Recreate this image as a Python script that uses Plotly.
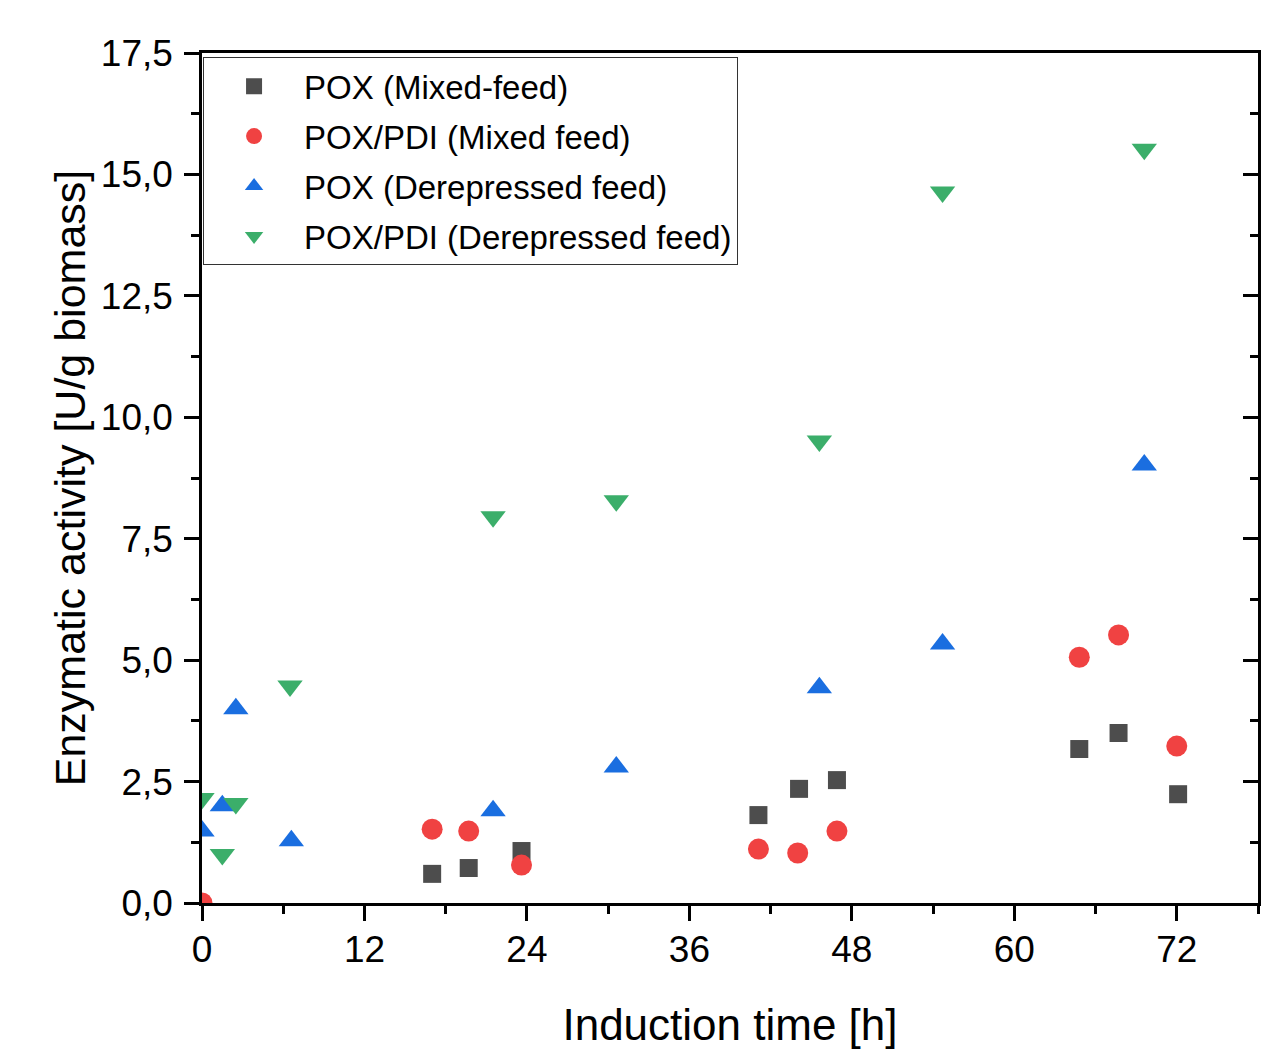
import plotly.graph_objects as go

# ---- data ----
pox_mixed_t = [17.0, 19.7, 23.6, 41.1, 44.1, 46.9, 64.8, 67.7, 72.1]
pox_mixed_v = [0.60, 0.72, 1.07, 1.81, 2.35, 2.53, 3.17, 3.50, 2.24]

poxpdi_mixed_t = [0.0, 17.0, 19.7, 23.6, 41.1, 44.0, 46.9, 64.8, 67.7, 72.0]
poxpdi_mixed_v = [0.0, 1.52, 1.48, 0.78, 1.11, 1.03, 1.48, 5.06, 5.52, 3.23]

pox_derep_t = [0.0, 1.5, 2.5, 6.6, 21.5, 30.6, 45.6, 54.7, 69.6]
pox_derep_v = [1.48, 2.00, 4.00, 1.28, 1.90, 2.80, 4.43, 5.33, 9.02]

poxpdi_derep_t = [0.0, 1.5, 2.5, 6.5, 21.5, 30.6, 45.6, 54.7, 69.6]
poxpdi_derep_v = [2.15, 1.00, 2.05, 4.47, 7.95, 8.28, 9.51, 14.64, 15.52]

names = ["POX (Mixed-feed)", "POX/PDI (Mixed feed)",
         "POX (Derepressed feed)", "POX/PDI (Derepressed feed)"]
x_ticks = [0, 12, 24, 36, 48, 60, 72]
y_ticks = [0, 2.5, 5.0, 7.5, 10.0, 12.5, 15.0, 17.5]

FONT = "Liberation Sans, Arial"

series = [
    (pox_mixed_t, pox_mixed_v, names[0], "square", "#4d4d4d", 18),
    (poxpdi_mixed_t, poxpdi_mixed_v, names[1], "circle", "#f04242", 21),
    (pox_derep_t, pox_derep_v, names[2], "triangle-up", "#1a6ee0", 22),
    (poxpdi_derep_t, poxpdi_derep_v, names[3], "triangle-down", "#3bae6a", 22),
]

fig = go.Figure()
for i, (t, v, n, sym, col, sz) in enumerate(series):
    fig.add_trace(go.Scatter(
        x=t, y=v, name=n, mode="markers", legendgroup=f"g{i}",
        marker=dict(symbol=sym, color=col, size=sz, line=dict(width=0)),
        cliponaxis=True,
    ))

# dummy trace to carry the right-hand mirrored axis
fig.add_trace(go.Scatter(x=[None], y=[None], yaxis="y2", showlegend=False,
                         hoverinfo="skip"))

axis_common = dict(showgrid=False, zeroline=False, linecolor="black",
                   linewidth=2.5, tickcolor="black", tickwidth=2.5,
                   automargin=False)

# page body has an 8px default margin -> compensate
fig.update_layout(
    width=1258, height=1041,
    margin=dict(l=194, r=8, t=45, b=146, autoexpand=False),
    paper_bgcolor="white", plot_bgcolor="white",
    separators=",.",
    font=dict(family=FONT, color="black"),
    xaxis=dict(
        range=[0, 78], tickvals=x_ticks, ticks="outside", ticklen=15,
        showline=True, mirror=True,
        minor=dict(dtick=6, tick0=0, ticks="outside", ticklen=8,
                   tickwidth=2.5, tickcolor="black"),
        tickfont=dict(size=37, family=FONT),
        ticklabelstandoff=-3,
        title=dict(text="Induction time [h]", font=dict(size=44, family=FONT),
                   standoff=43),
        **axis_common,
    ),
    yaxis=dict(
        range=[0, 17.5], tickvals=y_ticks, tickformat=".1f",
        ticks="outside", ticklen=15, showline=True, mirror=False,
        minor=dict(dtick=1.25, tick0=0, ticks="outside", ticklen=8,
                   tickwidth=2.5, tickcolor="black"),
        tickfont=dict(size=37, family=FONT),
        ticklabelstandoff=4,
        title=dict(text="Enzymatic activity [U/g biomass]",
                   font=dict(size=43, family=FONT), standoff=2),
        **axis_common,
    ),
    yaxis2=dict(
        range=[0, 17.5], overlaying="y", side="right", tickvals=y_ticks,
        ticks="inside", ticklen=15, showticklabels=False, showline=True,
        minor=dict(dtick=1.25, tick0=0, ticks="inside", ticklen=8,
                   tickwidth=2.5, tickcolor="black"),
        **axis_common,
    ),
    legend=dict(
        x=0.001, y=0.995, xanchor="left", yanchor="top",
        bgcolor="white", bordercolor="#333333", borderwidth=1,
        font=dict(size=33, family=FONT), itemwidth=90,
        tracegroupgap=4,
    ),
    showlegend=True,
)

fig.write_html("out.html")
